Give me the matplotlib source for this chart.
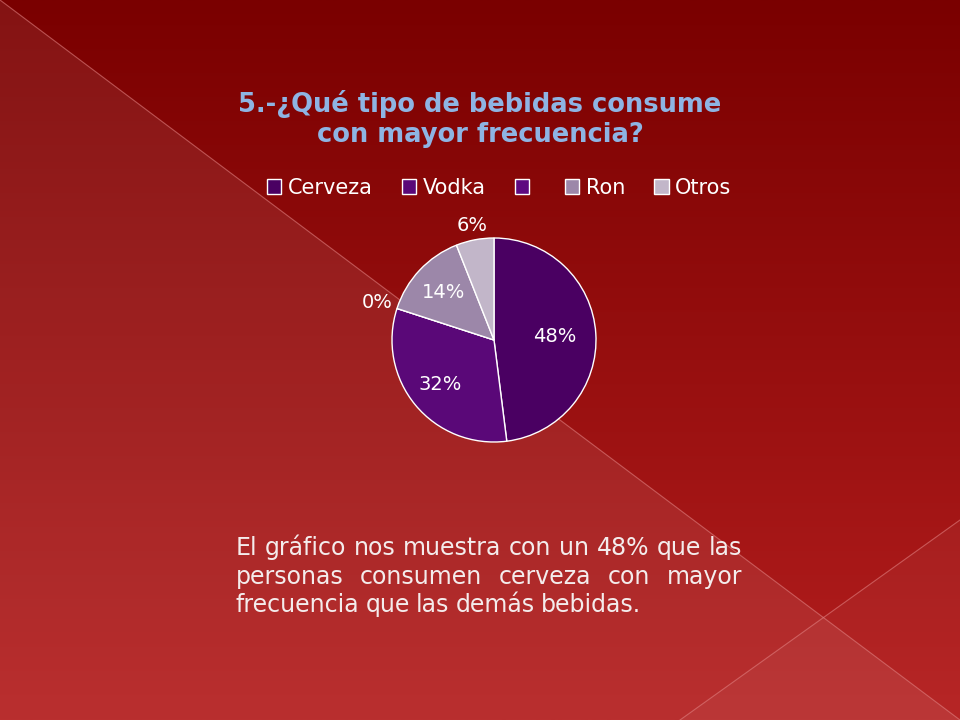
import matplotlib.pyplot as plt
import numpy as np
from matplotlib.patches import Polygon

# data
labels = ['Cerveza', 'Vodka', '', 'Ron', 'Otros']
values = [48, 32, 0, 14, 6]
colors = ['#4a0062', '#5a0878', '#5e0a80', '#9c87a9', '#c2b6c9']
title = '5.-¿Qué tipo de bebidas consume\ncon mayor frecuencia?'
body = ['El gráfico nos muestra con un 48% que las',
        'personas consumen cerveza con mayor',
        'frecuencia que las demás bebidas.']

fig = plt.figure(figsize=(9.6, 7.2), dpi=100)

# slide background
bg = fig.add_axes([0, 0, 1, 1])
bg.set_xlim(0, 960)
bg.set_ylim(720, 0)
bg.axis('off')
top = np.array([122, 0, 0]) / 255
bottom = np.array([180, 30, 30]) / 255
t = np.linspace(0, 1, 256)[:, None]
grad = (top + (bottom - top) * t)[:, None, :]
bg.imshow(grad, extent=[0, 960, 720, 0], aspect='auto')
bg.add_patch(Polygon([[0, 0], [960, 720], [0, 720]], closed=True,
                     facecolor='white', alpha=0.08, edgecolor='none'))
bg.add_patch(Polygon([[680, 720], [960, 520], [960, 720]], closed=True,
                     facecolor='white', alpha=0.04, edgecolor='none'))
bg.plot([0, 960], [0, 720], color='#e08080', lw=0.8, alpha=0.6)
bg.plot([680, 960], [720, 520], color='#e08080', lw=0.8, alpha=0.6)

# title
fig.text(0.5, 1 - 119 / 720, title, ha='center', va='center',
         fontsize=18.5, fontweight='bold', color='#8eb4e3', linespacing=1.2)

# pie
cx, cy, r = 494, 340, 102
ax = fig.add_axes([(cx - r) / 960, (720 - cy - r) / 720, 2 * r / 960, 2 * r / 720])
wedges, _ = ax.pie(values, colors=colors, startangle=90, counterclock=False,
                   wedgeprops=dict(edgecolor='white', linewidth=1))
ax.set_xlim(-1, 1)
ax.set_ylim(-1, 1)
ax.set_aspect('auto')

dist = [0.6, 0.68, 1.2, 0.68, 1.14]
for w, v, d in zip(wedges, values, dist):
    ang = np.deg2rad((w.theta1 + w.theta2) / 2)
    ax.text(d * np.cos(ang), d * np.sin(ang), f'{v}%', ha='center', va='center',
            fontsize=14, color='white', clip_on=False)

handles = [plt.Rectangle((0, 0), 1, 1, facecolor=c, edgecolor='white', lw=1)
           for c in colors]
fig.legend(handles, labels, loc='center', bbox_to_anchor=(499 / 960, 1 - 188 / 720),
           ncol=5, frameon=False, fontsize=15, labelcolor='white',
           handlelength=0.7, handleheight=0.7, handletextpad=0.3, columnspacing=1.4)

# justified paragraph
x0, x1 = 236, 742
ys = [555, 584, 612]
fig.canvas.draw()
renderer = fig.canvas.get_renderer()
for i, (line, y) in enumerate(zip(body, ys)):
    words = line.split()
    objs = [bg.text(0, y, wd, fontsize=17, color='#f4ecec', va='baseline') for wd in words]
    widths = [o.get_window_extent(renderer).width for o in objs]
    if i < len(body) - 1:
        gap = (x1 - x0 - sum(widths)) / (len(words) - 1)
    else:
        gap = 6
    x = x0
    for o, wdt in zip(objs, widths):
        o.set_x(x)
        x += wdt + gap

fig.savefig('out.png', dpi=100)
